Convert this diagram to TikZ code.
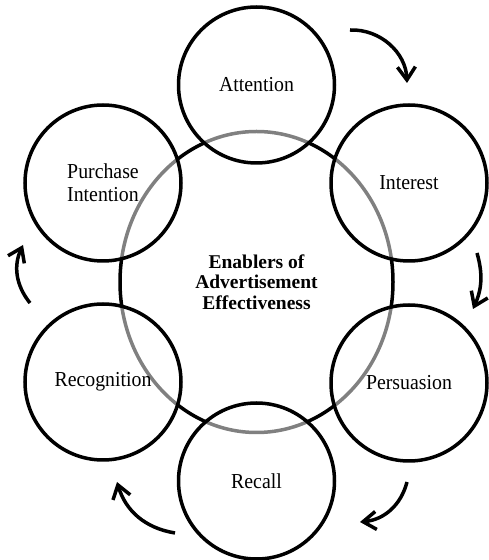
\documentclass[tikz,border=0pt]{standalone}
\usepackage{fontspec}
\setmainfont{Liberation Serif}
\newfontfamily\stagefont[FakeStretch=0.93]{Liberation Serif}
\usetikzlibrary{arrows.meta,shapes.geometric}
\begin{document}
\begin{tikzpicture}[x=1pt,y=1pt,
  stage/.style={circle, draw=black, line width=3.5pt, fill=white, fill opacity=0.5, text opacity=1,
    minimum size=156pt, inner sep=0pt, align=center, font=\stagefont\fontsize{21.3}{23}\selectfont},
  hub/.style={ellipse, draw=black, line width=3.5pt, minimum width=273pt, minimum height=301pt,
    inner sep=0pt, align=center, font=\fontsize{19.5}{20.5}\selectfont\bfseries},
  flow/.style={line width=3.5pt, -{Straight Barb[length=13pt,width=18pt]}}
]
\useasboundingbox (0,0) rectangle (488,560);
\node[hub] (hub) at (256.5,278) {Enablers of\\Advertisement\\Effectiveness};
\node[stage] (att) at (256.5,475) {Attention};
\node[stage] (int) at (409,377) {Interest};
\node[stage] (per) at (409,177) {Persuasion};
\node[stage] (rec) at (256.5,79) {Recall};
\node[stage] (rcg) at (103,178) {Recognition};
\node[stage] (pur) at (103,377) {Purchase\\Intention};
\coordinate (a1s) at (350,530); \coordinate (a1e) at (407,477);
\coordinate (a2s) at (477,307); \coordinate (a2e) at (473,251);
\coordinate (a3s) at (407,78);  \coordinate (a3e) at (360,38);
\coordinate (a4s) at (175,27);  \coordinate (a4e) at (117,78);
\coordinate (a5s) at (30,257);  \coordinate (a5e) at (23,315);
\draw[flow] (a1s) to[bend left=45] (a1e);
\draw[flow] (a2s) to[bend left=20] (a2e);
\draw[flow] (a3s) to[bend left=35] (a3e);
\draw[flow] (a4s) to[bend left=32] (a4e);
\draw[flow] (a5s) to[bend left=32] (a5e);
\end{tikzpicture}
\end{document}
